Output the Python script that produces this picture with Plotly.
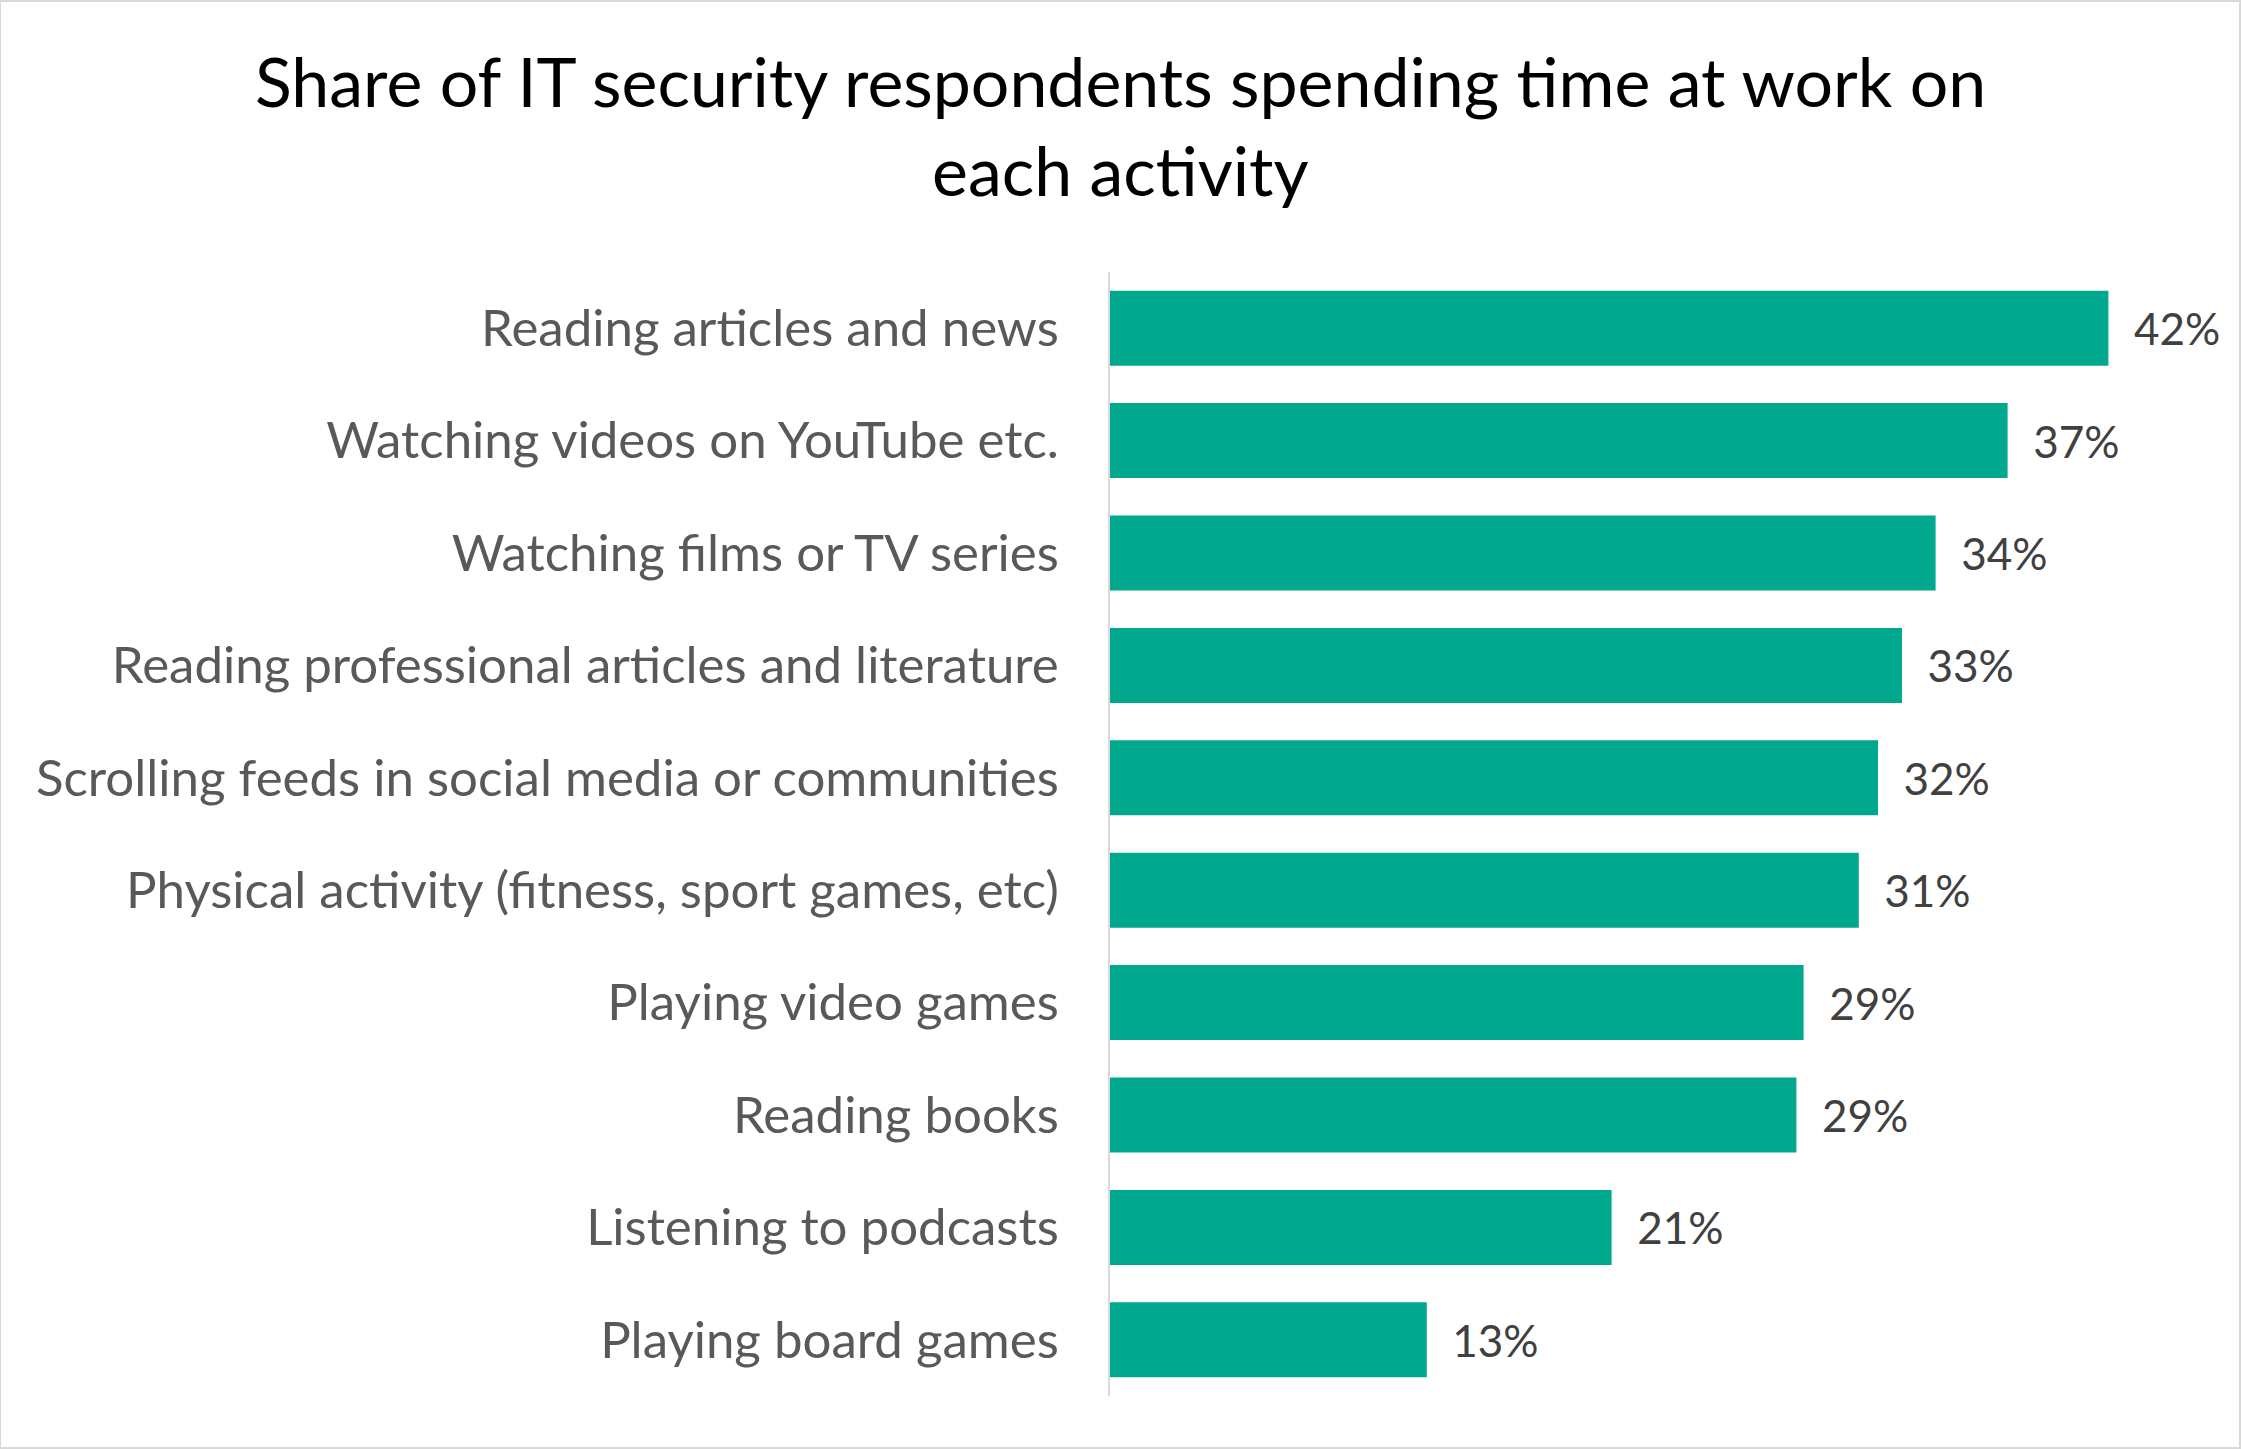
import plotly.graph_objects as go

categories = [
    "Reading articles and news",
    "Watching videos on YouTube etc.",
    "Watching films or TV series",
    "Reading professional articles and literature",
    "Scrolling feeds in social media or communities",
    "Physical activity (fitness, sport games, etc)",
    "Playing video games",
    "Reading books",
    "Listening to podcasts",
    "Playing board games",
]
values = [41.6, 37.4, 34.4, 33.0, 32.0, 31.2, 28.9, 28.6, 20.9, 13.2]
value_labels = ["42%", "37%", "34%", "33%", "32%", "31%", "29%", "29%", "21%", "13%"]
title_lines = ["Share of IT security respondents spending time at work on", "each activity"]

W, H = 2241, 1449
ML, MR, MT, MB = 1110, 11, 272, 53
plot_w = W - ML - MR
plot_h = H - MT - MB
px_per_unit = 24.0

fig = go.Figure()
fig.add_trace(go.Bar(
    y=categories,
    x=values,
    orientation="h",
    marker=dict(color="#00A88E", line=dict(width=0)),
    text=["\u00a0\u00a0" + t for t in value_labels],
    textposition="outside",
    textfont=dict(family="Lato", size=44, color="#404040"),
    constraintext="none",
    cliponaxis=False,
    hoverinfo="skip",
))

title_centers_px = [80, 169]
annotations = []
for line, cy in zip(title_lines, title_centers_px):
    annotations.append(dict(
        text=line, showarrow=False,
        xref="paper", yref="paper",
        x=(W / 2 - ML) / plot_w, xanchor="center",
        y=1 + (MT - cy) / plot_h, yanchor="middle",
        font=dict(family="Lato", size=68, color="#000000"),
    ))

fig.update_layout(
    width=W, height=H,
    margin=dict(l=ML, r=MR, t=MT, b=MB, pad=0),
    paper_bgcolor="white",
    plot_bgcolor="white",
    bargap=0.333,
    showlegend=False,
    annotations=annotations,
    xaxis=dict(
        range=[0, plot_w / px_per_unit],
        showgrid=False, zeroline=False, showline=False,
        showticklabels=False, ticks="", fixedrange=True,
    ),
    yaxis=dict(
        autorange="reversed",
        showgrid=False, zeroline=False,
        showline=True, linecolor="#D9D9D9", linewidth=2,
        ticks="", ticklabelstandoff=39,
        tickfont=dict(family="Lato", size=51, color="#595959"),
        fixedrange=True,
    ),
    shapes=[dict(
        type="rect", xref="paper", yref="paper",
        x0=-ML / plot_w, x1=(plot_w + MR) / plot_w - 1 / plot_w,
        y0=-(MB - 1) / plot_h, y1=1 + (MT - 1) / plot_h,
        line=dict(color="#D9D9D9", width=2), fillcolor="rgba(0,0,0,0)",
        layer="below",
    )],
)

fig.write_html("out.html")
